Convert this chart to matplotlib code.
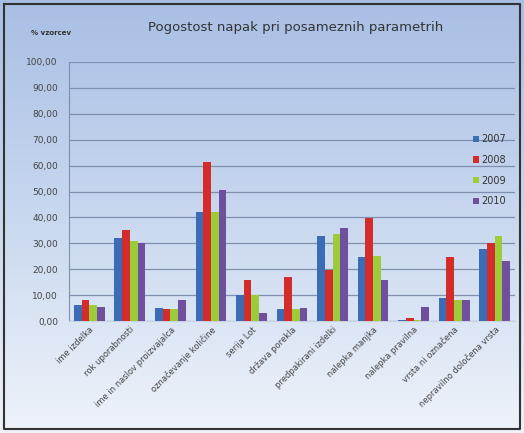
import numpy as np
import matplotlib.pyplot as plt
from matplotlib.ticker import FuncFormatter
from matplotlib.colors import LinearSegmentedColormap

categories = ["ime izdelka", "rok uporabnosti", "ime in naslov proizvajalca",
              "označevanje količine", "serija Lot", "država porekla",
              "predpakirani izdelki", "nalepka manjka", "nalepka pravilna",
              "vrsta ni označena", "nepravilno določena vrsta"]
years = ["2007", "2008", "2009", "2010"]
v2007 = [6.0, 32.0, 5.0, 42.0, 10.0, 4.6, 32.8, 24.8, 0.5, 9.0, 27.8]
v2008 = [8.0, 35.0, 4.5, 61.5, 16.0, 17.0, 19.7, 39.7, 1.0, 24.8, 30.0]
v2009 = [6.0, 31.0, 4.5, 42.0, 10.0, 4.5, 33.5, 25.0, 0.5, 8.0, 32.8]
v2010 = [5.5, 30.0, 8.0, 50.5, 3.0, 5.0, 36.0, 15.8, 5.4, 8.0, 23.3]
series = [v2007, v2008, v2009, v2010]
colors = ["#3a6db5", "#d42b2b", "#9ccc3a", "#6f4f9e"]

fig = plt.figure(figsize=(5.24, 4.33), dpi=100)

# background gradient (darker at the top) + frame
bg = fig.add_axes([0, 0, 1, 1], zorder=-10)
grad = np.linspace(0, 1, 256).reshape(-1, 1)
cmap = LinearSegmentedColormap.from_list("bg", ["#a8bfe4", "#c9d8ef", "#eef3fa"])
bg.imshow(grad, aspect="auto", cmap=cmap, extent=[0, 1, 1, 0], origin="upper")
bg.set_xlim(0, 1)
bg.set_ylim(1, 0)
bg.plot([0.008, 0.992, 0.992, 0.008, 0.008], [0.01, 0.01, 0.99, 0.99, 0.01],
        color="#333333", lw=1.5)
bg.axis("off")

ax = fig.add_axes([69 / 524, 1 - 321 / 433, 446 / 524, 259 / 433])
ax.set_facecolor("none")
x = np.arange(len(categories))
w = 0.19
for i, (vals, yr) in enumerate(zip(series, years)):
    ax.bar(x + (i - 1.5) * w, vals, w, color=colors[i], label=yr, zorder=3)

ax.set_ylim(0, 100)
ax.set_xlim(-0.5, len(categories) - 0.5)
ax.set_yticks(np.arange(0, 101, 10))
ax.yaxis.set_major_formatter(FuncFormatter(lambda v, p: f"{v:.2f}".replace(".", ",")))
ax.grid(axis="y", color="#7f90ae", lw=0.9, zorder=0)
for s in ["top", "right"]:
    ax.spines[s].set_visible(False)
ax.spines["left"].set_color("#7f90ae")
ax.spines["bottom"].set_color("#c8d2e2")
ax.tick_params(axis="y", length=0, labelsize=6.5, labelcolor="#444444", pad=8)
ax.tick_params(axis="x", length=0, labelsize=6, labelcolor="#444444", pad=3)
ax.set_xticks(x)
ax.set_xticklabels(categories, rotation=45, ha="right", rotation_mode="anchor")

ax.legend(loc="upper right", bbox_to_anchor=(1.0, 0.755), frameon=False,
          fontsize=7, handlelength=0.6, handleheight=0.6, handletextpad=0.3,
          labelspacing=1.1, labelcolor="#333333")

fig.text(0.565, 0.937, "Pogostost napak pri posameznih parametrih",
         ha="center", va="center", fontsize=9.5, color="#333333")
fig.text(0.06, 0.923, "% vzorcev", ha="left", va="center", fontsize=5,
         fontweight="bold", color="#333333")

fig.savefig("out.png", dpi=100)
